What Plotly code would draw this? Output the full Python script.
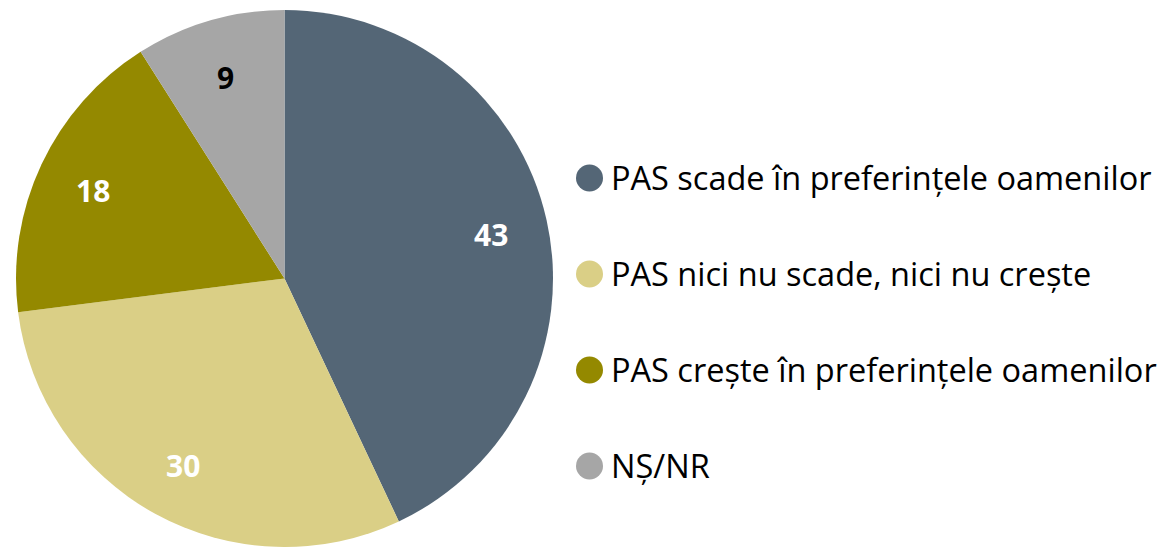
import math
import plotly.graph_objects as go

categories = [
    "PAS scade în preferințele oamenilor",
    "PAS nici nu scade, nici nu crește",
    "PAS crește în preferințele oamenilor",
    "NȘ/NR",
]
values = [43, 30, 18, 9]
colors = ["#546676", "#DACF86", "#948900", "#A6A6A6"]
label_colors = ["#FFFFFF", "#FFFFFF", "#FFFFFF", "#000000"]

W, H = 1164, 547
CX, CY, R = 284.5, 279.5, 269.5  # pixel geometry of the pie
FONT = "Open Sans"

fig = go.Figure()
fig.add_trace(go.Pie(
    labels=categories,
    values=values,
    sort=False,
    direction="clockwise",
    rotation=0,
    marker=dict(colors=colors, line=dict(width=0)),
    textinfo="none",
    hoverinfo="label+value",
    showlegend=False,
    domain=dict(x=[(CX - R) / W, (CX + R) / W],
                y=[max(0, (H - CY - R) / H), min(1, (H - CY + R) / H)]),
))

annotations = []
shapes = []
total = sum(values)
cum = 0
for v, lc in zip(values, label_colors):
    mid = (cum + v / 2) / total * 2 * math.pi
    cum += v
    px = CX + 0.785 * R * math.sin(mid)
    py = CY - 0.785 * R * math.cos(mid)
    annotations.append(dict(
        x=px / W, y=1 - (py + 1) / H, xref="paper", yref="paper",
        text=f"<b>{v}</b>", showarrow=False,
        font=dict(family=FONT, size=30, color=lc),
        xanchor="center", yanchor="middle",
    ))

# custom legend with circle markers
LX, LY0, LDY, MR = 589.5, 178, 96, 13.5
for i, (cat, col) in enumerate(zip(categories, colors)):
    y = LY0 + i * LDY
    shapes.append(dict(
        type="circle", xref="paper", yref="paper",
        x0=(LX - MR) / W, x1=(LX + MR) / W,
        y0=1 - (y + MR) / H, y1=1 - (y - MR) / H,
        fillcolor=col, line=dict(width=0),
    ))
    annotations.append(dict(
        x=(LX + MR + 6) / W, y=1 - (y - 1) / H, xref="paper", yref="paper",
        text=cat, showarrow=False,
        font=dict(family=FONT, size=32.5, color="#000000"),
        xanchor="left", yanchor="middle",
    ))

fig.update_layout(
    width=W, height=H,
    margin=dict(l=0, r=0, t=0, b=0),
    paper_bgcolor="white",
    plot_bgcolor="white",
    annotations=annotations,
    shapes=shapes,
)

fig.write_html(
    "out.html",
    config={"displayModeBar": False},
    post_script="document.body.style.margin='0';document.body.style.overflow='hidden';",
)
